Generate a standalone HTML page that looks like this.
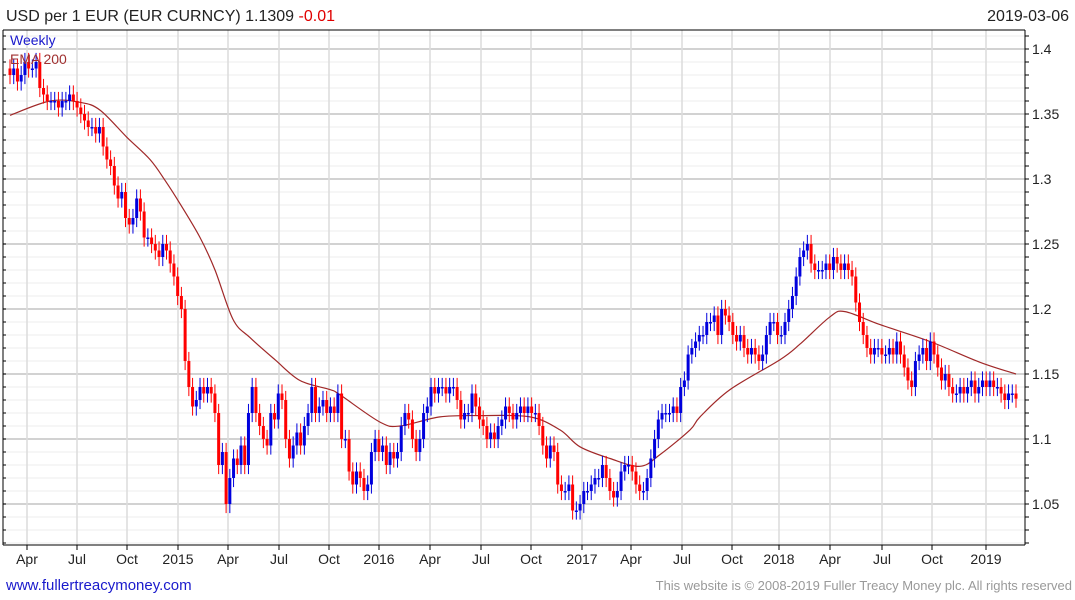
<!DOCTYPE html>
<html><head><meta charset="utf-8"><style>
body{margin:0;background:#fff;font-family:"Liberation Sans",sans-serif}
svg{display:block}
</style></head><body>
<svg id="c" width="1075" height="600" viewBox="0 0 1075 600">
<text x="6" y="21" font-size="16" fill="#222">USD per 1 EUR (EUR CURNCY) 1.1309 <tspan fill="#e00000">-0.01</tspan></text>
<text x="1069" y="21" font-size="16" fill="#222" text-anchor="end">2019-03-06</text>
<g id="grid"></g><g id="ema"></g><g id="bars"></g><g id="axes"></g>
<text x="10" y="45" font-size="14" fill="#1a1acc">Weekly</text>
<text x="10" y="64" font-size="14" fill="#a03030">EMA 200</text>
<text x="6" y="590" font-size="15" fill="#1a1acc">www.fullertreacymoney.com</text>
<text x="1072" y="590" font-size="13" fill="#999" text-anchor="end">This website is © 2008-2019 Fuller Treacy Money plc. All rights reserved</text>
</svg>
<script>
const closes=[1.38,1.385,1.375,1.38,1.39,1.385,1.385,1.39,1.37,1.365,1.36,1.36,1.36,1.355,1.36,1.36,1.365,1.36,1.355,1.35,1.345,1.34,1.34,1.335,1.34,1.325,1.315,1.31,1.295,1.285,1.29,1.27,1.265,1.27,1.285,1.275,1.255,1.255,1.25,1.245,1.24,1.25,1.245,1.235,1.225,1.21,1.20,1.16,1.14,1.125,1.13,1.14,1.135,1.14,1.135,1.12,1.08,1.09,1.05,1.07,1.085,1.08,1.095,1.08,1.12,1.14,1.12,1.11,1.10,1.095,1.12,1.115,1.135,1.13,1.10,1.085,1.095,1.105,1.095,1.11,1.12,1.14,1.12,1.125,1.13,1.12,1.125,1.12,1.135,1.10,1.10,1.075,1.065,1.075,1.07,1.06,1.065,1.09,1.10,1.09,1.095,1.08,1.09,1.085,1.09,1.11,1.12,1.115,1.10,1.09,1.10,1.12,1.125,1.14,1.135,1.14,1.14,1.135,1.14,1.14,1.13,1.115,1.12,1.12,1.135,1.125,1.115,1.11,1.10,1.105,1.10,1.11,1.115,1.125,1.12,1.115,1.12,1.125,1.12,1.125,1.12,1.12,1.11,1.095,1.085,1.095,1.09,1.065,1.06,1.06,1.065,1.045,1.045,1.05,1.06,1.06,1.065,1.07,1.07,1.08,1.07,1.06,1.055,1.06,1.075,1.08,1.08,1.075,1.065,1.06,1.06,1.07,1.085,1.10,1.115,1.12,1.12,1.12,1.125,1.12,1.14,1.145,1.165,1.17,1.175,1.18,1.18,1.19,1.19,1.195,1.18,1.20,1.195,1.19,1.18,1.175,1.18,1.17,1.165,1.17,1.165,1.16,1.165,1.18,1.19,1.19,1.18,1.18,1.19,1.20,1.21,1.225,1.24,1.245,1.25,1.235,1.23,1.23,1.23,1.235,1.23,1.24,1.235,1.23,1.235,1.23,1.225,1.205,1.19,1.18,1.17,1.165,1.17,1.17,1.165,1.165,1.17,1.165,1.175,1.165,1.155,1.145,1.14,1.16,1.165,1.17,1.16,1.175,1.165,1.155,1.145,1.15,1.14,1.135,1.135,1.14,1.135,1.14,1.145,1.135,1.14,1.145,1.14,1.145,1.14,1.14,1.135,1.13,1.135,1.135,1.131];
const emaValues=[1.349,1.36,1.359,1.353,1.332,1.315,1.299,1.281,1.255,1.23,1.192,1.178,1.161,1.145,1.138,1.134,1.113,1.11,1.117,1.118,1.117,1.107,1.094,1.085,1.079,1.088,1.107,1.117,1.138,1.161,1.173,1.194,1.198,1.188,1.175,1.159,1.15];
const emaX=[10,50,80,100,127,150,165,180,200,215,233,250,275,300,330,340,380,400,440,480,530,560,580,610,640,660,690,700,730,780,800,830,845,880,930,980,1016];
const yTicks=["1.05","1.1","1.15","1.2","1.25","1.3","1.35","1.4"];
const xLabels=["Apr","Jul","Oct","2015","Apr","Jul","Oct","2016","Apr","Jul","Oct","2017","Apr","Jul","Oct","2018","Apr","Jul","Oct","2019"];
const xLabelPos=[27,77,127,178,228,279,329,379,430,481,531,582,631,682,732,779,830,882,932,986];
const NS="http://www.w3.org/2000/svg";
const L=3,R=1025,T=30,B=545;
const y=v=>49+(1.4-v)*1300;
const x=i=>10+i*(1006/(closes.length-1));
function mk(t,a,p){const e=document.createElementNS(NS,t);for(const k in a)e.setAttribute(k,a[k]);p.appendChild(e);return e;}
const grid=document.getElementById('grid'),axes=document.getElementById('axes'),bars=document.getElementById('bars'),ema=document.getElementById('ema');
for(let v=1.02;v<=1.415;v+=0.01){const major=Math.abs(Math.round(v*100)%5)==0;
 const l=mk('line',{x1:L,x2:R,y1:y(v),y2:y(v),stroke:major?'#c4c4c4':'#ececec','stroke-width':major?1.5:1},grid);
 
 
 const tk=mk('line',{x1:R,x2:R+4,y1:y(v),y2:y(v),stroke:'#000'},axes);
 
 
 const tl=mk('line',{x1:L,x2:L+3,y1:y(v),y2:y(v),stroke:'#000'},axes);
 
 }
yTicks.forEach(s=>{const t=mk('text',{x:1032,y:y(+s)+5,'font-size':14,fill:'#222'},axes);t.textContent=s;
 
 });
xLabels.forEach((s,i)=>{const px=xLabelPos[i];
 const g=mk('line',{x1:px,x2:px,y1:T,y2:B,stroke:'#dcdcdc','stroke-width':1.5},grid);
 
 
 const tk=mk('line',{x1:px,x2:px,y1:B,y2:B+5,stroke:'#000'},axes);
 
 
 const t=mk('text',{x:px,y:564,'font-size':14,fill:'#222','text-anchor':'middle'},axes);t.textContent=s;
 
 });
[[L,T,R,T],[R,T,R,B],[L,B,R,B],[L,T,L,B]].forEach(c=>{const l=mk('line',{x1:c[0],y1:c[1],x2:c[2],y2:c[3],stroke:'#000'},axes);
 
 });
const P=emaValues.map((v,i)=>[emaX[i],y(v)]);
let d='M'+P[0][0]+','+P[0][1];
for(let i=0;i<P.length-1;i++){const p0=P[Math.max(0,i-1)],p1=P[i],p2=P[i+1],p3=P[Math.min(P.length-1,i+2)];
 d+=' C'+(p1[0]+(p2[0]-p0[0])/6)+','+(p1[1]+(p2[1]-p0[1])/6)+' '+(p2[0]-(p3[0]-p1[0])/6)+','+(p2[1]-(p3[1]-p1[1])/6)+' '+p2[0]+','+p2[1];}
const ep=mk('path',{d:d,fill:'none',stroke:'#a02828','stroke-width':1.2},ema);


closes.forEach((c,i)=>{const o=i?closes[i-1]:1.385;const up=c>=o;const col=up?'#0000dd':'#ff0000';
 const hi=Math.max(o,c)+0.007,lo=Math.min(o,c)-0.007,px=x(i);
 const g=mk('g',{},bars);
 
 
 mk('line',{x1:px,x2:px,y1:y(hi),y2:y(lo),stroke:col,'stroke-width':1},g);
 const top=y(Math.max(o,c)),h=Math.max(1.5,Math.abs(y(o)-y(c)));
 mk('rect',{x:px-1.5,y:top,width:3,height:h,fill:col},g);});
</script>
</body></html>
